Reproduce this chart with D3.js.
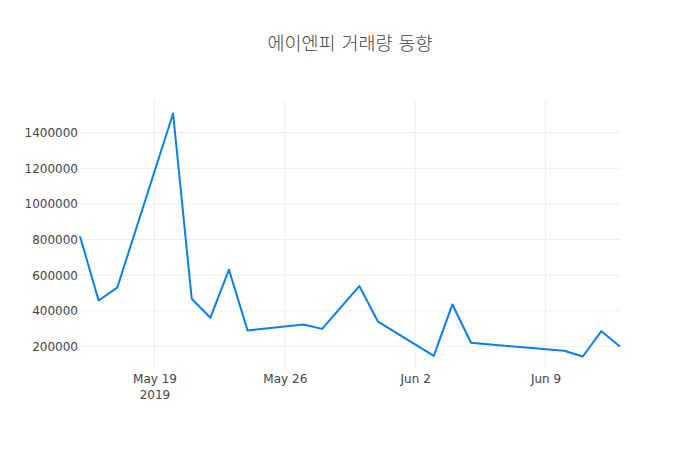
<!DOCTYPE html>
<html>
<head>
<meta charset="utf-8">
<script src="https://cdn.jsdelivr.net/npm/d3@7"></script>
<style>
  html, body { margin: 0; padding: 0; background: #fff; }
  svg { display: block; }
</style>
</head>
<body>
<div id="chart"></div>
<script>
const title = "에이엔피 거래량 동향";
const dates = [
  "2019-05-15","2019-05-16","2019-05-17","2019-05-20","2019-05-21","2019-05-22",
  "2019-05-23","2019-05-24","2019-05-27","2019-05-28","2019-05-30","2019-05-31",
  "2019-06-03","2019-06-04","2019-06-05","2019-06-10","2019-06-11","2019-06-12",
  "2019-06-13"
];
const volumes = [
  819000, 458000, 530000, 1507000, 468000, 361000,
  631000, 290000, 323000, 299000, 539000, 340000,
  148000, 436000, 221000, 176000, 144000, 286000,
  200000
];
const xTickDates = ["2019-05-19","2019-05-26","2019-06-02","2019-06-09"];
const xTickLabels = [["May 19","2019"],["May 26"],["Jun 2"],["Jun 9"]];
const yTicks = [200000, 400000, 600000, 800000, 1000000, 1200000, 1400000];

const W = 700, H = 450;
const margin = {top: 100, right: 80, bottom: 80, left: 80};
const iw = W - margin.left - margin.right;
const ih = H - margin.top - margin.bottom;
const parse = d3.utcParse("%Y-%m-%d");
const data = dates.map((d, i) => ({date: parse(d), v: volumes[i]}));

const svg = d3.select("#chart").append("svg")
  .attr("width", W).attr("height", H);

const x = d3.scaleUtc()
  .domain(d3.extent(data, d => d.date))
  .range([margin.left, margin.left + iw]);

const [ymin, ymax] = d3.extent(data, d => d.v);
const pad = (ymax - ymin) * 0.0555;
const y = d3.scaleLinear()
  .domain([ymin - pad, ymax + pad])
  .range([margin.top + ih, margin.top]);

const font = "'DejaVu Sans', sans-serif";

// grid
const gx = svg.append("g");
gx.selectAll("line").data(xTickDates).join("line")
  .attr("x1", d => x(parse(d))).attr("x2", d => x(parse(d)))
  .attr("y1", margin.top).attr("y2", margin.top + ih)
  .attr("stroke", "#eee").attr("stroke-width", 1);
const gy = svg.append("g");
gy.selectAll("line").data(yTicks).join("line")
  .attr("x1", margin.left).attr("x2", margin.left + iw)
  .attr("y1", d => y(d)).attr("y2", d => y(d))
  .attr("stroke", "#eee").attr("stroke-width", 1);

// y axis labels
const yAxis = d3.axisLeft(y).tickValues(yTicks).tickSize(0).tickPadding(2)
  .tickFormat(d3.format("d"));
const ya = svg.append("g").attr("transform", `translate(${margin.left},0)`).call(yAxis);
ya.select(".domain").remove();
ya.selectAll("text").attr("font-family", font).attr("font-size", 12).attr("fill", "#444");

// x axis labels
const xAxis = d3.axisBottom(x).tickValues(xTickDates.map(parse)).tickSize(0).tickFormat("");
const xa = svg.append("g").attr("transform", `translate(0,${margin.top + ih})`).call(xAxis);
xa.select(".domain").remove();
xa.selectAll(".tick").each(function(d, i) {
  const t = d3.select(this).append("text")
    .attr("text-anchor", "middle")
    .attr("font-family", font).attr("font-size", 12).attr("fill", "#444");
  xTickLabels[i].forEach((s, j) => {
    t.append("tspan").attr("x", 0).attr("y", 13 + j * 16).text(s);
  });
});

// line
const line = d3.line().x(d => x(d.date)).y(d => y(d.v));
svg.append("path").datum(data)
  .attr("d", line)
  .attr("fill", "none")
  .attr("stroke", "#0b7fe8")
  .attr("stroke-width", 2)
  .attr("stroke-linejoin", "round");

// title
svg.append("text")
  .attr("x", W / 2).attr("y", 50)
  .attr("text-anchor", "middle")
  .attr("font-family", "'DejaVu Sans', 'Noto Sans CJK KR', sans-serif")
  .attr("font-weight", 300)
  .attr("font-size", 18.5).attr("fill", "#444")
  .text(title);
</script>
</body>
</html>
